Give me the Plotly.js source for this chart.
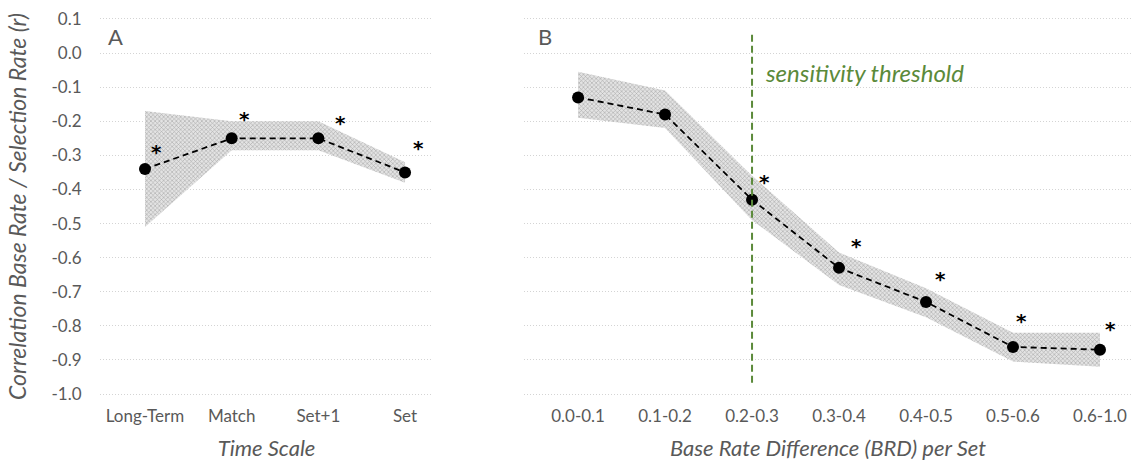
<!DOCTYPE html>
<html>
<head>
<meta charset="utf-8">
<script src="https://cdn.plot.ly/plotly-3.0.1.min.js"></script>
<style>
  html, body { margin: 0; padding: 0; background: #ffffff; }
  #chart { width: 1132px; height: 461px; }
</style>
</head>
<body>
<div id="chart"></div>
<script>
// ---------- data ----------
const categoriesA = ['Long-Term', 'Match', 'Set+1', 'Set'];
const valuesA     = [-0.34, -0.25, -0.25, -0.35];
const upperA      = [-0.17, -0.20, -0.20, -0.32];
const lowerA      = [-0.51, -0.285, -0.285, -0.38];
const sigA        = [true, true, true, true];

const categoriesB = ['0.0-0.1', '0.1-0.2', '0.2-0.3', '0.3-0.4', '0.4-0.5', '0.5-0.6', '0.6-1.0'];
const valuesB     = [-0.13, -0.18, -0.43, -0.63, -0.73, -0.862, -0.87];
const upperB      = [-0.055, -0.11, -0.36, -0.585, -0.69, -0.82, -0.82];
const lowerB      = [-0.19, -0.22, -0.49, -0.68, -0.775, -0.905, -0.92];
const sigB        = [false, false, true, true, true, true, true];

const thresholdCategory = '0.2-0.3';
const thresholdLabel = 'sensitivity threshold';

const yTickVals   = [0.1, 0.0, -0.1, -0.2, -0.3, -0.4, -0.5, -0.6, -0.7, -0.8, -0.9, -1.0];
const yTickLabels = ['0.1', '0.0', '-0.1', '-0.2', '-0.3', '-0.4', '-0.5', '-0.6', '-0.7', '-0.8', '-0.9', '-1.0'];

const panelLabels = ['A', 'B'];
const titleA = 'Time Scale';
const titleB = 'Base Rate Difference (BRD) per Set';
const titleY = 'Correlation Base Rate / Selection Rate (r)';

// ---------- styling / layout helpers (not data) ----------
const FONT = 'Lato, "Open Sans", "DejaVu Sans", sans-serif';
const STARFONT = '"DejaVu Sans", sans-serif';
const GREY = '#595959';
const GREEN = '#5b8a3a';
// screen offsets (px, right / down) of each asterisk relative to its point
const starOffA = [[12, -17], [13, -19], [22, -15], [13, -24]];
const starOffB = [[0, 0], [0, 0], [12, -18], [17, -22], [14, -23], [9, -26], [11, -21]];
const STAR_SIZE = 20;

function bandTrace(cats, up, lo, xa, ya) {
  return {
    type: 'scatter', mode: 'lines',
    x: cats.concat(cats.slice().reverse()),
    y: up.concat(lo.slice().reverse()),
    fill: 'toself',
    fillcolor: '#e0e0e0',
    fillpattern: { shape: 'x', size: 3, solidity: 0.35, fgcolor: '#a9a9a9', bgcolor: '#e3e3e3' },
    line: { width: 0, color: 'rgba(0,0,0,0)' },
    xaxis: xa, yaxis: ya, hoverinfo: 'skip', showlegend: false
  };
}
function lineTrace(cats, vals, xa, ya) {
  return {
    type: 'scatter', mode: 'lines+markers',
    x: cats, y: vals,
    line: { color: '#000000', width: 1.8, dash: '6px,4px' },
    marker: { color: '#000000', size: 12 },
    xaxis: xa, yaxis: ya, hoverinfo: 'skip', showlegend: false
  };
}

const traces = [
  bandTrace(categoriesA, upperA, lowerA, 'x', 'y'),
  lineTrace(categoriesA, valuesA, 'x', 'y'),
  bandTrace(categoriesB, upperB, lowerB, 'x2', 'y2'),
  lineTrace(categoriesB, valuesB, 'x2', 'y2')
];

function star(xref, yref, x, y, off) {
  return { xref: xref, yref: yref, x: x, y: y, text: '<b>*</b>', showarrow: false,
    xshift: off[0], yshift: -off[1],
    font: { family: STARFONT, size: STAR_SIZE, color: '#000000' } };
}

const annotations = [];
categoriesA.forEach((c, i) => { if (sigA[i]) annotations.push(star('x', 'y', c, valuesA[i], starOffA[i])); });
categoriesB.forEach((c, i) => { if (sigB[i]) annotations.push(star('x2', 'y2', c, valuesB[i], starOffB[i])); });

annotations.push({ xref: 'x', yref: 'y', x: -0.45, y: 0.048, xanchor: 'left', yanchor: 'middle',
  text: panelLabels[0], showarrow: false, font: { family: FONT, size: 22, color: GREY } });
annotations.push({ xref: 'x2', yref: 'y2', x: -0.48, y: 0.048, xanchor: 'left', yanchor: 'middle',
  text: panelLabels[1], showarrow: false, font: { family: FONT, size: 22, color: GREY } });
const thrIdx = categoriesB.indexOf(thresholdCategory);
annotations.push({ xref: 'x2', yref: 'y2', x: thrIdx, y: -0.058, xanchor: 'left', yanchor: 'middle', xshift: 11,
  text: '<i>' + thresholdLabel + '</i>', showarrow: false, font: { family: FONT, size: 24, color: GREEN } });

const baseX = {
  type: 'category', showline: false, zeroline: false, showgrid: false,
  ticks: 'outside', ticklen: 3, tickcolor: 'rgba(0,0,0,0)',
  tickfont: { family: FONT, size: 17, color: GREY }, automargin: false, fixedrange: true
};
const baseY = {
  range: [-1.0117, 0.1117], tickmode: 'array', tickvals: yTickVals, ticktext: yTickLabels,
  showline: false, zeroline: false, showgrid: true, gridcolor: '#d4d4d4', gridwidth: 1, griddash: '1px,2px',
  ticks: 'outside', ticklen: 14, tickcolor: 'rgba(0,0,0,0)',
  tickfont: { family: FONT, size: 17, color: GREY }, automargin: false, fixedrange: true
};

const layout = {
  width: 1132, height: 461,
  margin: { l: 100, r: 0, t: 15, b: 63 },
  paper_bgcolor: '#ffffff', plot_bgcolor: '#ffffff',
  showlegend: false,
  xaxis: Object.assign({}, baseX, { domain: [0, 0.3227], range: [-0.519, 3.323], anchor: 'y',
    categoryarray: categoriesA,
    title: { text: '<i>' + titleA + '</i>', standoff: 17, font: { family: FONT, size: 22, color: GREY } } }),
  xaxis2: Object.assign({}, baseX, { domain: [0.4109, 1], range: [-0.621, 6.368], anchor: 'y2',
    categoryarray: categoriesB,
    title: { text: '<i>' + titleB + '</i>', standoff: 15, font: { family: FONT, size: 22, color: GREY } } }),
  yaxis: Object.assign({}, baseY, { anchor: 'x',
    title: { text: '<i>' + titleY + '</i>', standoff: 18, font: { family: FONT, size: 23, color: GREY } } }),
  yaxis2: Object.assign({}, baseY, { anchor: 'x2', showticklabels: false }),
  shapes: [{
    type: 'line', xref: 'x2', yref: 'y2', x0: thrIdx, x1: thrIdx, y0: -0.967, y1: 0.062,
    line: { color: GREEN, width: 2, dash: '7px,4px' }
  }],
  annotations: annotations
};

Plotly.newPlot('chart', traces, layout, { staticPlot: true, displayModeBar: false });
</script>
</body>
</html>
